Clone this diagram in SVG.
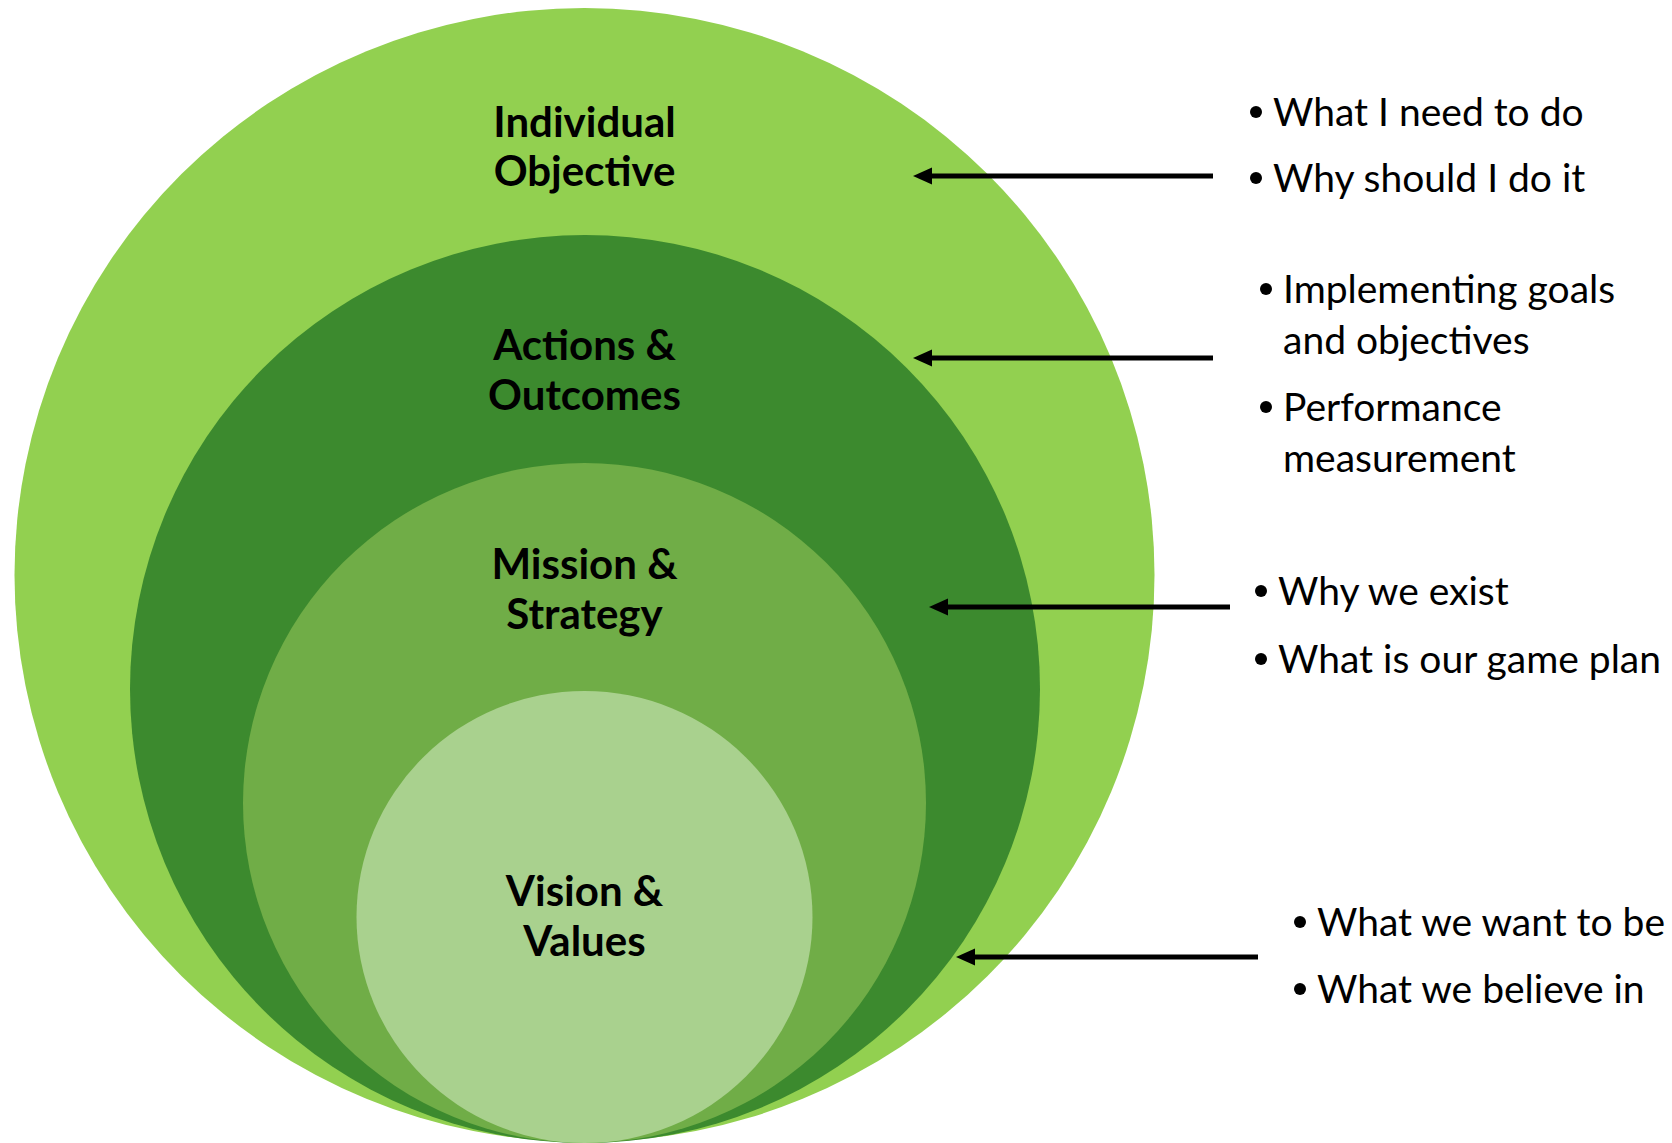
<svg xmlns="http://www.w3.org/2000/svg" width="1672" height="1143" viewBox="0 0 1672 1143">
<style>
.title{font-family:Lato,"Open Sans","Liberation Sans",sans-serif;font-weight:bold;font-size:42px;fill:#000;text-anchor:middle}
.item{font-family:Lato,"Open Sans","Liberation Sans",sans-serif;font-size:39px;fill:#000}
.conn{stroke:#000;stroke-width:5;fill:none;marker-end:url(#ah)}
</style>
<defs>
<marker id="ah" markerUnits="userSpaceOnUse" markerWidth="20" markerHeight="20" viewBox="0 0 20 20" refX="4" refY="10" orient="auto">
<path d="M0,1.5 L19,10 L0,18.5 z" fill="#000"/>
</marker>
</defs>
<rect width="1672" height="1143" fill="#fff"/>
<g id="individual-objective">
<ellipse cx="584.5" cy="575" rx="570" ry="567" fill="#92D050"/>
<text class="title" x="584.5" y="137">Individual</text>
<text class="title" x="584.5" y="186">Objective</text>
</g>
<g id="actions-outcomes">
<ellipse cx="585" cy="689" rx="455" ry="454" fill="#3C8A2E"/>
<text class="title" x="584.5" y="360">Actions &amp;</text>
<text class="title" x="584.5" y="410">Outcomes</text>
</g>
<g id="mission-strategy">
<ellipse cx="584.5" cy="803" rx="341.5" ry="340" fill="#70AD47"/>
<text class="title" x="584.5" y="579">Mission &amp;</text>
<text class="title" x="584.5" y="629">Strategy</text>
</g>
<g id="vision-values">
<ellipse cx="584.5" cy="917" rx="228" ry="226" fill="#A9D18E"/>
<text class="title" x="584.5" y="906">Vision &amp;</text>
<text class="title" x="584.5" y="956">Values</text>
</g>
<g id="notes-objective">
<circle cx="1256" cy="112" r="6"/>
<text class="item" x="1273" y="126">What I need to do</text>
<circle cx="1256" cy="178" r="6"/>
<text class="item" x="1273" y="192">Why should I do it</text>
</g>
<g id="notes-actions">
<circle cx="1266" cy="289" r="6"/>
<text class="item" x="1283" y="303">Implementing goals</text>
<text class="item" x="1283" y="354">and objectives</text>
<circle cx="1266" cy="407" r="6"/>
<text class="item" x="1283" y="421">Performance</text>
<text class="item" x="1283" y="472">measurement</text>
</g>
<g id="notes-mission">
<circle cx="1261" cy="591" r="6"/>
<text class="item" x="1278" y="605">Why we exist</text>
<circle cx="1261" cy="659" r="6"/>
<text class="item" x="1278" y="673">What is our game plan</text>
</g>
<g id="notes-vision">
<circle cx="1300" cy="922" r="6"/>
<text class="item" x="1317" y="936">What we want to be</text>
<circle cx="1300" cy="989" r="6"/>
<text class="item" x="1317" y="1003">What we believe in</text>
</g>
<g id="connectors">
<line class="conn" x1="1213" y1="176" x2="928" y2="176"/>
<line class="conn" x1="1213" y1="358" x2="928" y2="358"/>
<line class="conn" x1="1230" y1="607" x2="944" y2="607"/>
<line class="conn" x1="1258" y1="957" x2="971" y2="957"/>
</g>
</svg>
